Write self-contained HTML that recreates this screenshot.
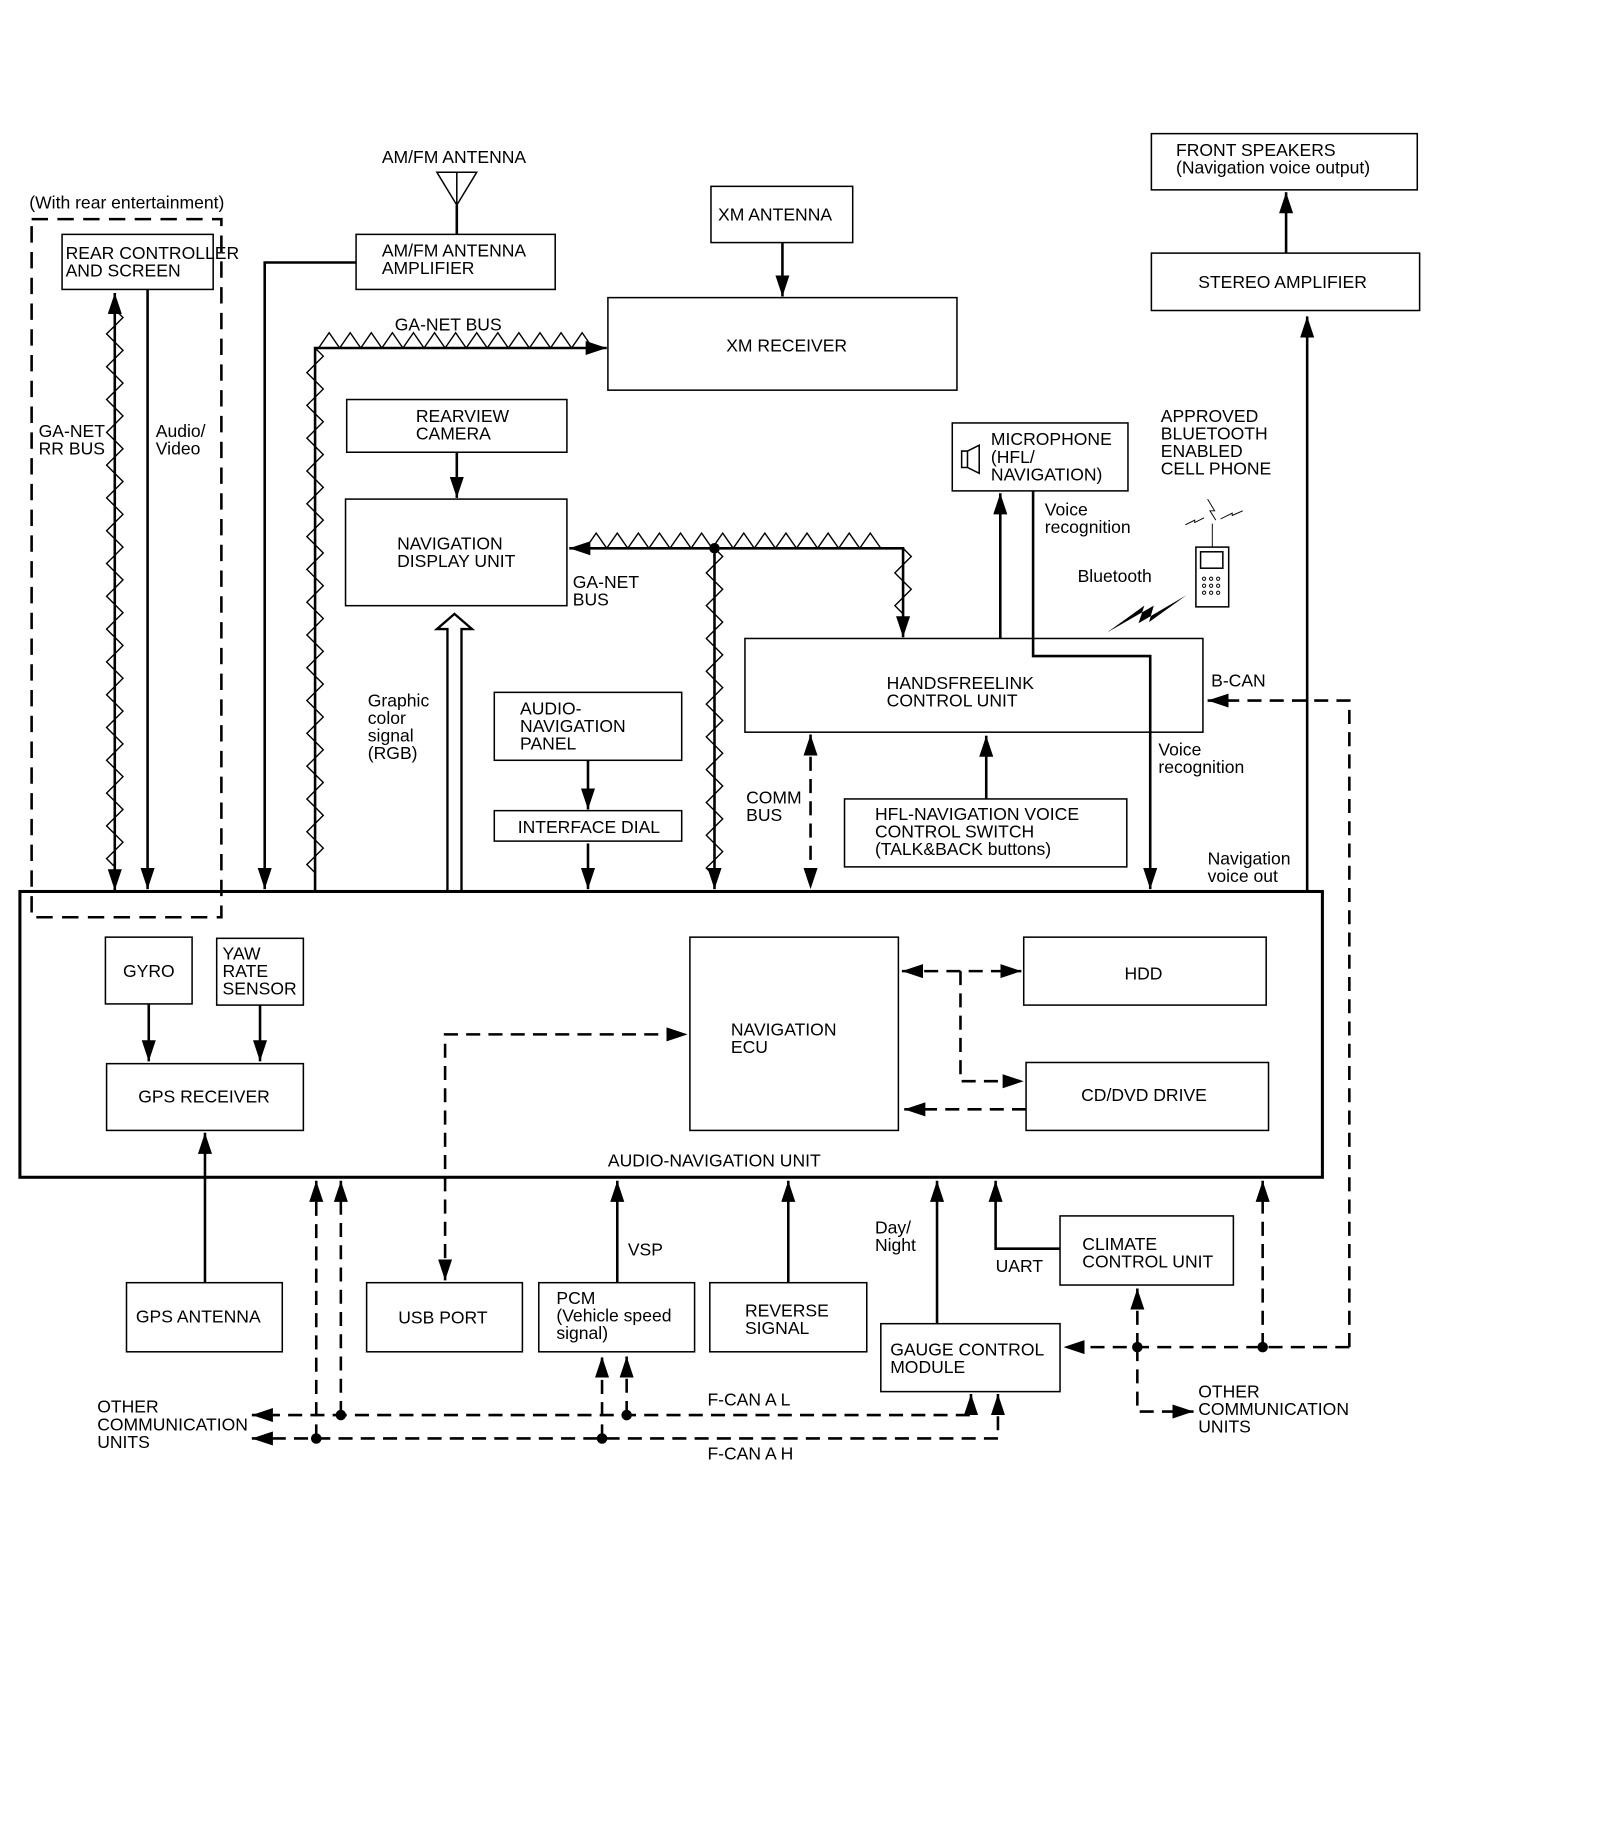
<!DOCTYPE html>
<html><head><meta charset="utf-8"><style>
html,body{margin:0;padding:0;background:#fff}
svg{display:block}
text{font-family:"Liberation Sans",Arial,sans-serif;font-size:15px;fill:#000}
.b{fill:none;stroke:#000;stroke-width:1.3}
.l{fill:none;stroke:#000;stroke-width:2.2}
.d{fill:none;stroke:#000;stroke-width:2.2;stroke-dasharray:12,7}
.z{fill:none;stroke:#000;stroke-width:1.2}
</style></head><body>
<svg id="s" width="1600" height="1838" viewBox="0 0 1366 1569" xmlns="http://www.w3.org/2000/svg">
<defs>
<marker id="a" markerUnits="userSpaceOnUse" markerWidth="20" markerHeight="12" refX="18" refY="6" orient="auto-start-reverse"><path d="M0,0 L18,6 L0,12 z" fill="#000"/></marker>
</defs>
<g id="zz"></g>
<text x="25" y="178">(With rear entertainment)</text>
<rect x="27" y="187" width="162" height="596" fill="none" stroke="#000" stroke-width="2.2" stroke-dasharray="14,8"/>
<rect class="b" x="53" y="200" width="129" height="47" fill="#fff"/>
<text x="56" y="221">REAR CONTROLLER</text><text x="56" y="236">AND SCREEN</text>
<line class="l" x1="98" y1="760" x2="98" y2="250" marker-end="url(#a)" marker-start="url(#a)"/>
<text x="33" y="373">GA-NET</text><text x="33" y="388">RR BUS</text>
<line class="l" x1="126" y1="247" x2="126" y2="759" marker-end="url(#a)"/>
<text x="133" y="373">Audio/</text><text x="133" y="388">Video</text>
<text x="326" y="139">AM/FM ANTENNA</text>
<path class="b" d="M373,147 L407,147 L390,175 Z M390,147 L390,175"/>
<line class="l" x1="390" y1="175" x2="390" y2="200"/>
<rect class="b" x="304" y="200" width="170" height="47"/>
<text x="326" y="219">AM/FM ANTENNA</text><text x="326" y="234">AMPLIFIER</text>
<polyline class="l" points="304,224 226,224 226,759" marker-end="url(#a)"/>
<text x="337" y="282">GA-NET BUS</text>
<polyline class="l" points="269,760 269,297 518,297" marker-end="url(#a)"/>
<rect class="b" x="607" y="159" width="121" height="48"/>
<text x="613" y="188">XM ANTENNA</text>
<line class="l" x1="668" y1="207" x2="668" y2="253" marker-end="url(#a)"/>
<rect class="b" x="519" y="254" width="298" height="79"/>
<text x="620" y="300">XM RECEIVER</text>
<rect class="b" x="296" y="341" width="188" height="45"/>
<text x="355" y="360">REARVIEW</text><text x="355" y="375">CAMERA</text>
<line class="l" x1="390" y1="386" x2="390" y2="425" marker-end="url(#a)"/>
<rect class="b" x="295" y="426" width="189" height="91"/>
<text x="339" y="469">NAVIGATION</text><text x="339" y="484">DISPLAY UNIT</text>
<path d="M382,760 L382,537 L373,537 L388,524 L403,537 L394,537 L394,760" fill="none" stroke="#000" stroke-width="2"/>
<text x="314" y="603">Graphic</text><text x="314" y="618">color</text><text x="314" y="633">signal</text><text x="314" y="648">(RGB)</text>
<polyline class="l" points="771,544 771,468 486,468" marker-end="url(#a)" marker-start="url(#a)"/>
<circle cx="610" cy="468" r="4.5"/>
<line class="l" x1="610" y1="468" x2="610" y2="759" marker-end="url(#a)"/>
<text x="489" y="502">GA-NET</text><text x="489" y="517">BUS</text>
<rect class="b" x="422" y="591" width="160" height="58"/>
<text x="444" y="610">AUDIO-</text><text x="444" y="625">NAVIGATION</text><text x="444" y="640">PANEL</text>
<line class="l" x1="502" y1="649" x2="502" y2="691" marker-end="url(#a)"/>
<rect class="b" x="422" y="692" width="160" height="26"/>
<text x="442" y="711">INTERFACE DIAL</text>
<line class="l" x1="502" y1="720" x2="502" y2="759" marker-end="url(#a)"/>
<text x="637" y="686">COMM</text><text x="637" y="701">BUS</text>
<line class="d" x1="692" y1="627" x2="692" y2="759" marker-end="url(#a)" marker-start="url(#a)" stroke-dasharray="10,6"/>
<rect class="b" x="636" y="545" width="391" height="80"/>
<text x="757" y="588">HANDSFREELINK</text><text x="757" y="603">CONTROL UNIT</text>
<rect class="b" x="721" y="682" width="241" height="58"/>
<text x="747" y="700">HFL-NAVIGATION VOICE</text><text x="747" y="715">CONTROL SWITCH</text><text x="747" y="730">(TALK&amp;BACK buttons)</text>
<line class="l" x1="842" y1="682" x2="842" y2="628" marker-end="url(#a)"/>
<rect class="b" x="813" y="361" width="150" height="58"/>
<path class="b" d="M821,385 L826,385 L836,380 L836,404 L826,399 L821,399 Z M826,385 L826,399"/>
<text x="846" y="380">MICROPHONE</text><text x="846" y="395">(HFL/</text><text x="846" y="410">NAVIGATION)</text>
<line class="l" x1="854" y1="545" x2="854" y2="421" marker-end="url(#a)"/>
<polyline class="l" points="882,419 882,560 982,560 982,759" marker-end="url(#a)"/>
<text x="892" y="440">Voice</text><text x="892" y="455">recognition</text>
<text x="989" y="645">Voice</text><text x="989" y="660">recognition</text>
<text x="991" y="360">APPROVED</text><text x="991" y="375">BLUETOOTH</text><text x="991" y="390">ENABLED</text><text x="991" y="405">CELL PHONE</text>
<rect class="b" x="1021" y="467" width="28" height="51"/>
<rect class="b" x="1025" y="471" width="19" height="14"/>
<g fill="none" stroke="#000" stroke-width="0.8">
<circle cx="1028" cy="494" r="1.4"/><circle cx="1034" cy="494" r="1.4"/><circle cx="1040" cy="494" r="1.4"/>
<circle cx="1028" cy="500" r="1.4"/><circle cx="1034" cy="500" r="1.4"/><circle cx="1040" cy="500" r="1.4"/>
<circle cx="1028" cy="506" r="1.4"/><circle cx="1034" cy="506" r="1.4"/><circle cx="1040" cy="506" r="1.4"/>
<path d="M1035,467 L1035,447 M1031,426 L1037,436 L1033,436 L1038,444 M1012,448 L1020,444 L1020,446 L1028,442 M1061,436 L1052,440 L1052,438 L1042,443"/>
</g>
<text x="920" y="497">Bluetooth</text>
<path d="M945,540 L977,517 L972,532 L1013,508 L981,531 L985,517 Z" fill="#000"/>
<text x="1034" y="586">B-CAN</text>
<polyline class="d" points="1152,1150 1152,598 1031,598" marker-end="url(#a)"/>
<rect class="b" x="983" y="114" width="227" height="48"/>
<text x="1004" y="133">FRONT SPEAKERS</text><text x="1004" y="148">(Navigation voice output)</text>
<rect class="b" x="983" y="216" width="229" height="49"/>
<text x="1023" y="246">STEREO AMPLIFIER</text>
<line class="l" x1="1098" y1="216" x2="1098" y2="164" marker-end="url(#a)"/>
<line class="l" x1="1116" y1="760" x2="1116" y2="270" marker-end="url(#a)"/>
<text x="1031" y="738">Navigation</text><text x="1031" y="753">voice out</text>
<rect x="17" y="761" width="1112" height="244" fill="none" stroke="#000" stroke-width="2.6"/>
<text x="519" y="996">AUDIO-NAVIGATION UNIT</text>
<rect class="b" x="90" y="800" width="74" height="57"/>
<text x="105" y="834">GYRO</text>
<rect class="b" x="185" y="801" width="74" height="57"/>
<text x="190" y="819">YAW</text><text x="190" y="834">RATE</text><text x="190" y="849">SENSOR</text>
<line class="l" x1="127" y1="857" x2="127" y2="906" marker-end="url(#a)"/>
<line class="l" x1="222" y1="858" x2="222" y2="906" marker-end="url(#a)"/>
<rect class="b" x="91" y="908" width="168" height="57"/>
<text x="118" y="941">GPS RECEIVER</text>
<rect class="b" x="589" y="800" width="178" height="165"/>
<text x="624" y="884">NAVIGATION</text><text x="624" y="899">ECU</text>
<rect class="b" x="874" y="800" width="207" height="58"/>
<text x="960" y="836">HDD</text>
<rect class="b" x="876" y="907" width="207" height="58"/>
<text x="923" y="940">CD/DVD DRIVE</text>
<line class="d" x1="770" y1="829" x2="872" y2="829" marker-end="url(#a)" marker-start="url(#a)" stroke-dasharray="10,6"/>
<polyline class="d" points="820,829 820,923 874,923" marker-end="url(#a)" stroke-dasharray="10,6"/>
<line class="d" x1="876" y1="947" x2="772" y2="947" marker-end="url(#a)" stroke-dasharray="10,6"/>
<polyline class="d" points="380,1093 380,883 587,883" marker-end="url(#a)" marker-start="url(#a)"/>
<rect class="b" x="108" y="1095" width="133" height="59"/>
<text x="116" y="1129">GPS ANTENNA</text>
<line class="l" x1="175" y1="1095" x2="175" y2="967" marker-end="url(#a)"/>
<rect class="b" x="313" y="1095" width="133" height="59"/>
<text x="340" y="1130">USB PORT</text>
<rect class="b" x="460" y="1095" width="133" height="59"/>
<text x="475" y="1113">PCM</text><text x="475" y="1128">(Vehicle speed</text><text x="475" y="1143">signal)</text>
<line class="l" x1="527" y1="1095" x2="527" y2="1008" marker-end="url(#a)"/>
<text x="536" y="1072">VSP</text>
<rect class="b" x="606" y="1095" width="134" height="59"/>
<text x="636" y="1124">REVERSE</text><text x="636" y="1139">SIGNAL</text>
<line class="l" x1="673" y1="1095" x2="673" y2="1008" marker-end="url(#a)"/>
<rect class="b" x="752" y="1130" width="153" height="58"/>
<text x="760" y="1157">GAUGE CONTROL</text><text x="760" y="1172">MODULE</text>
<line class="l" x1="800" y1="1130" x2="800" y2="1008" marker-end="url(#a)"/>
<text x="747" y="1053">Day/</text><text x="747" y="1068">Night</text>
<rect class="b" x="905" y="1038" width="148" height="59"/>
<text x="924" y="1067">CLIMATE</text><text x="924" y="1082">CONTROL UNIT</text>
<polyline class="l" points="905,1066 850,1066 850,1008" marker-end="url(#a)"/>
<text x="850" y="1086">UART</text>
<line class="d" x1="1152" y1="1150" x2="908" y2="1150" marker-end="url(#a)"/>
<circle cx="971" cy="1150" r="4.5"/><circle cx="1078" cy="1150" r="4.5"/>
<line class="d" x1="1078" y1="1150" x2="1078" y2="1008" marker-end="url(#a)"/>
<line class="d" x1="971" y1="1150" x2="971" y2="1100" marker-end="url(#a)"/>
<polyline class="d" points="971,1150 971,1205 1019,1205" marker-end="url(#a)"/>
<text x="1023" y="1193">OTHER</text><text x="1023" y="1208">COMMUNICATION</text><text x="1023" y="1223">UNITS</text>
<polyline class="d" points="829,1190 829,1208 215,1208" marker-end="url(#a)" marker-start="url(#a)"/>
<polyline class="d" points="852,1190 852,1228 215,1228" marker-end="url(#a)" marker-start="url(#a)"/>
<circle cx="291" cy="1208" r="4.5"/><circle cx="270" cy="1228" r="4.5"/>
<circle cx="535" cy="1208" r="4.5"/><circle cx="514" cy="1228" r="4.5"/>
<line class="d" x1="291" y1="1208" x2="291" y2="1008" marker-end="url(#a)"/>
<line class="d" x1="270" y1="1228" x2="270" y2="1008" marker-end="url(#a)"/>
<line class="d" x1="535" y1="1208" x2="535" y2="1158" marker-end="url(#a)" stroke-dasharray="8,5"/>
<line class="d" x1="514" y1="1228" x2="514" y2="1158" marker-end="url(#a)" stroke-dasharray="8,5"/>
<text x="604" y="1200">F-CAN A L</text><text x="604" y="1246">F-CAN A H</text>
<text x="83" y="1206">OTHER</text><text x="83" y="1221">COMMUNICATION</text><text x="83" y="1236">UNITS</text>
</svg>
<script>
(function(){
var g=document.getElementById('zz'),ns='http://www.w3.org/2000/svg';
function P(d){var p=document.createElementNS(ns,'path');p.setAttribute('d',d);p.setAttribute('class','z');g.appendChild(p);}
function H(x1,x2,y){var d='M'+x1+','+y;for(var x=x1;x+18<=x2;x+=18){d+=' L'+(x+9)+','+(y-13)+' L'+(x+18)+','+y;}P(d);}
function V(x,y1,y2){var d='M'+x+','+y1;var s=1;for(var y=y1;y+14<=y2;y+=14){d+=' L'+(x+s*7)+','+(y+7)+' L'+x+','+(y+14);s=-s;}P(d);}
V(98,264,752);V(269,297,752);H(272,508,297);H(500,768,468);V(771,468,530);V(610,468,748);
})();
</script>
</body></html>
